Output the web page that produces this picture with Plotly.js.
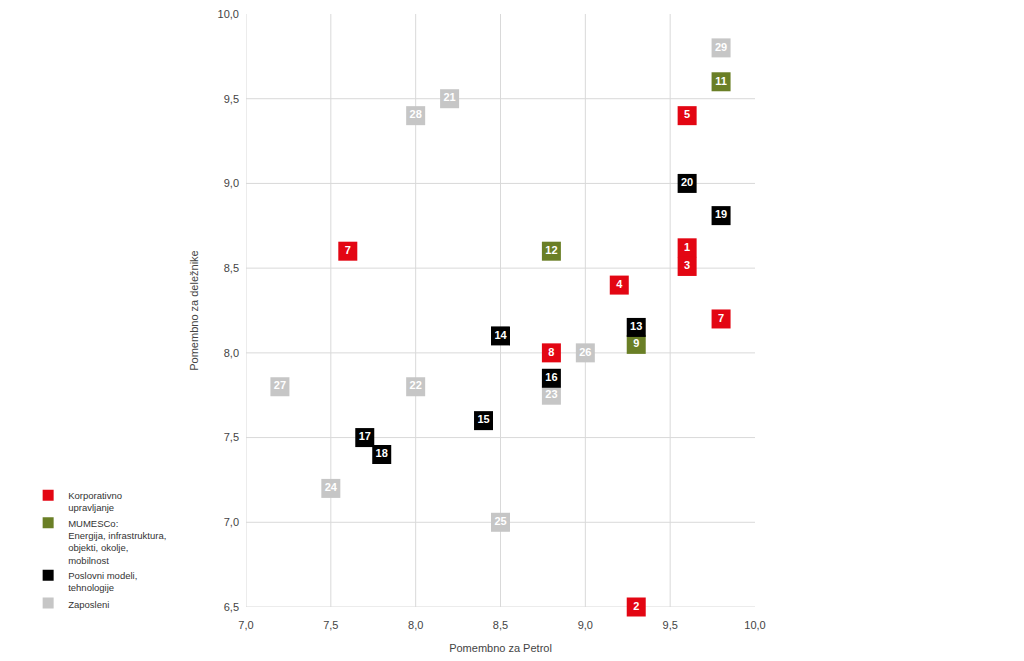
<!DOCTYPE html>
<html>
<head>
<meta charset="utf-8">
<script src="https://cdn.plot.ly/plotly-3.0.1.min.js"></script>
<style>html,body{margin:0;padding:0;background:#fff}#chart{width:1024px;height:661px}</style>
</head>
<body>
<div id="chart"></div>
<script>
// Korporativno upravljanje (red)
const redLabels = ["7", "5", "1", "3", "4", "8", "7", "2"];
const redX = [7.6, 9.6, 9.6, 9.6, 9.2, 8.8, 9.8, 9.3];
const redY = [8.6, 9.4, 8.62, 8.51, 8.4, 8.0, 8.2, 6.5];
// MUMESCo (green)
const greenLabels = ["11", "12", "9"];
const greenX = [9.8, 8.8, 9.3];
const greenY = [9.6, 8.6, 8.05];
// Poslovni modeli, tehnologije (black)
const blackLabels = ["20", "19", "14", "13", "16", "15", "17", "18"];
const blackX = [9.6, 9.8, 8.5, 9.3, 8.8, 8.4, 7.7, 7.8];
const blackY = [9.0, 8.81, 8.1, 8.15, 7.85, 7.6, 7.5, 7.4];
// Zaposleni (grey)
const greyLabels = ["29", "21", "28", "27", "22", "26", "23", "24", "25"];
const greyX = [9.8, 8.2, 8.0, 7.2, 8.0, 9.0, 8.8, 7.5, 8.5];
const greyY = [9.8, 9.5, 9.4, 7.8, 7.8, 8.0, 7.75, 7.2, 7.0];

const seriesNames = [
  "Korporativno<br>upravljanje",
  "MUMESCo:<br>Energija, infrastruktura,<br>objekti, okolje,<br>mobilnost",
  "Poslovni modeli,<br>tehnologije",
  "Zaposleni"
];
const xTicks = [7.0, 7.5, 8.0, 8.5, 9.0, 9.5, 10.0];
const yTicks = [6.5, 7.0, 7.5, 8.0, 8.5, 9.0, 9.5, 10.0];
const xTickText = ["7,0", "7,5", "8,0", "8,5", "9,0", "9,5", "10,0"];
const yTickText = ["6,5", "7,0", "7,5", "8,0", "8,5", "9,0", "9,5", "10,0"];

const RED = "#e30613", GREEN = "#6a7f26", BLACK = "#000000", GREY = "#c6c6c6";

function pts(x, y, labels, color) {
  return {
    type: "scatter", mode: "markers+text", x: x, y: y, text: labels,
    textposition: "middle center",
    textfont: {family: "Liberation Sans, Arial, sans-serif", size: 11, color: "#ffffff", weight: "bold"},
    marker: {symbol: "square", size: 19, color: color, line: {width: 0}},
    showlegend: false, hoverinfo: "skip", cliponaxis: false
  };
}
function leg(name, color) {
  return {
    type: "scatter", mode: "markers", x: [null], y: [null], name: name,
    marker: {symbol: "square", size: 11, color: color}, showlegend: true
  };
}

const data = [
  pts(greyX, greyY, greyLabels, GREY),
  pts(greenX, greenY, greenLabels, GREEN),
  pts(redX, redY, redLabels, RED),
  pts(blackX, blackY, blackLabels, BLACK),
  leg(seriesNames[0], RED),
  leg(seriesNames[1], GREEN),
  leg(seriesNames[2], BLACK),
  leg(seriesNames[3], GREY)
];

const gridColor = "#d9d9d9";
const shapes = [];
xTicks.slice(0, -1).forEach(v => shapes.push({type: "line", layer: "below", xref: "x", yref: "y",
  x0: v, x1: v, y0: yTicks[0], y1: yTicks[yTicks.length - 1], line: {color: gridColor, width: 1}}));
yTicks.slice(0, -1).forEach(v => shapes.push({type: "line", layer: "below", xref: "x", yref: "y",
  x0: xTicks[0], x1: xTicks[xTicks.length - 1], y0: v, y1: v, line: {color: gridColor, width: 1}}));

const layout = {
  width: 1024, height: 661,
  margin: {l: 246, r: 269, t: 14, b: 54},
  paper_bgcolor: "#fff", plot_bgcolor: "#fff",
  font: {family: "Liberation Sans, Arial, sans-serif", size: 11, color: "#444"},
  showlegend: true,
  legend: {
    x: -0.428, xanchor: "left", y: 0.21, yanchor: "top",
    valign: "top", itemwidth: 30,
    font: {family: "Liberation Sans Narrow, Liberation Sans, Arial Narrow, sans-serif", size: 9.5, color: "#333"},
    bgcolor: "rgba(0,0,0,0)"
  },
  xaxis: {
    range: [7, 10], showgrid: false, zeroline: false, showline: false,
    tickmode: "array", tickvals: xTicks, ticktext: xTickText, ticks: "",
    ticklabelstandoff: 10,
    tickfont: {size: 11, color: "#444"},
    title: {text: "Pomembno za Petrol", standoff: 14, font: {size: 11, color: "#444"}}
  },
  yaxis: {
    range: [6.5, 10], showgrid: false, zeroline: false, showline: false,
    tickmode: "array", tickvals: yTicks, ticktext: yTickText, ticks: "",
    ticklabelstandoff: 6,
    tickfont: {size: 11, color: "#444"},
    title: {text: "Pomembno za deležnike", standoff: 16, font: {size: 11, color: "#444"}}
  },
  shapes: shapes
};

Plotly.newPlot("chart", data, layout, {displayModeBar: false, staticPlot: true});
</script>
</body>
</html>
